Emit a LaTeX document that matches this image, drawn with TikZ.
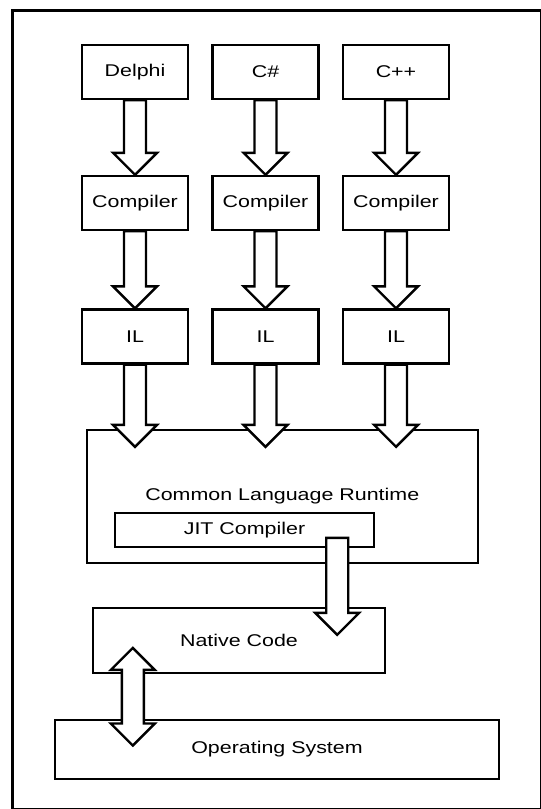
\documentclass[tikz,border=0pt]{standalone}
\usepackage{fontspec}
\setmainfont{Liberation Sans}[FakeStretch=1.26]
\usetikzlibrary{calc}

\tikzset{
  blk/.style={draw, line width=2.4pt, fill=white, inner sep=0pt,
              font=\fontsize{17}{20}\selectfont},
  colbox/.style={blk, minimum width=106pt, minimum height=54pt},
  fatarrow/.style={draw, line width=2.4pt, fill=white, line join=miter},
}

% hollow block arrow pointing down: #1 = start of shaft, #2 = tip
\newcommand\fatdown[2]{%
  \draw[fatarrow] let \p1=#1, \p2=#2 in
    (\x1-11pt,\y1) -- (\x1-11pt,\y2+22pt) -- (\x1-22pt,\y2+22pt) -- (\x1,\y2)
    -- (\x1+22pt,\y2+22pt) -- (\x1+11pt,\y2+22pt) -- (\x1+11pt,\y1) -- cycle;}

% hollow double-headed block arrow: #1 = upper tip, #2 = lower tip
\newcommand\fatboth[2]{%
  \draw[fatarrow] let \p1=#1, \p2=#2 in
    (\x1,\y1) -- (\x1+22pt,\y1-22pt) -- (\x1+11pt,\y1-22pt)
    -- (\x1+11pt,\y2+22pt) -- (\x1+22pt,\y2+22pt) -- (\x1,\y2)
    -- (\x1-22pt,\y2+22pt) -- (\x1-11pt,\y2+22pt)
    -- (\x1-11pt,\y1-22pt) -- (\x1-22pt,\y1-22pt) -- cycle;}

\begin{document}
\begin{tikzpicture}[x=1pt, y=-1pt]
  \useasboundingbox (0,0) rectangle (541,809);
  \draw[line width=3pt] (12,10) rectangle (541,809);

  % source languages
  \node[colbox] (delphi) at (135,72)   {Delphi};
  \node[colbox] (csharp) at (265.5,72) {C\#};
  \node[colbox] (cpp)    at (396,72)   {C++};

  % compilers
  \node[colbox] (comp1) at (135,203)   {Compiler};
  \node[colbox] (comp2) at (265.5,203) {Compiler};
  \node[colbox] (comp3) at (396,203)   {Compiler};

  % intermediate language
  \node[colbox] (il1) at (135,336.5)   {IL};
  \node[colbox] (il2) at (265.5,336.5) {IL};
  \node[colbox] (il3) at (396,336.5)   {IL};

  % runtime and lower layers
  \node[blk, minimum width=391pt, minimum height=133pt] (clr) at (282.3,496.5) {Common Language Runtime};
  \node[blk, minimum width=259pt, minimum height=34pt] (jit) at (244.5,529.7) {JIT Compiler};
  \node[blk, minimum width=292pt, minimum height=65pt] (native) at (239,640.5) {Native Code};
  \node[blk, minimum width=444pt, minimum height=59pt] (os) at (277,749.5) {Operating System};

  % language -> compiler
  \fatdown{(delphi.south)}{(comp1.north)}
  \fatdown{(csharp.south)}{(comp2.north)}
  \fatdown{(cpp.south)}{(comp3.north)}

  % compiler -> IL
  \fatdown{(comp1.south)}{(il1.north)}
  \fatdown{(comp2.south)}{(il2.north)}
  \fatdown{(comp3.south)}{(il3.north)}

  % IL -> runtime
  \fatdown{(il1.south)}{($(il1.south |- clr.north)+(0,18)$)}
  \fatdown{(il2.south)}{($(il2.south |- clr.north)+(0,18)$)}
  \fatdown{(il3.south)}{($(il3.south |- clr.north)+(0,18)$)}

  % JIT -> native code
  \coordinate (jitout) at ($(jit.south east)+(-38,-10)$);
  \fatdown{(jitout)}{($(jitout |- native.north)+(0,28)$)}

  % native code <-> operating system
  \fatboth{($(native.south west)+(41,-26.3)$)}{($(native.south west |- os.north)+(41,26.7)$)}
\end{tikzpicture}
\end{document}
